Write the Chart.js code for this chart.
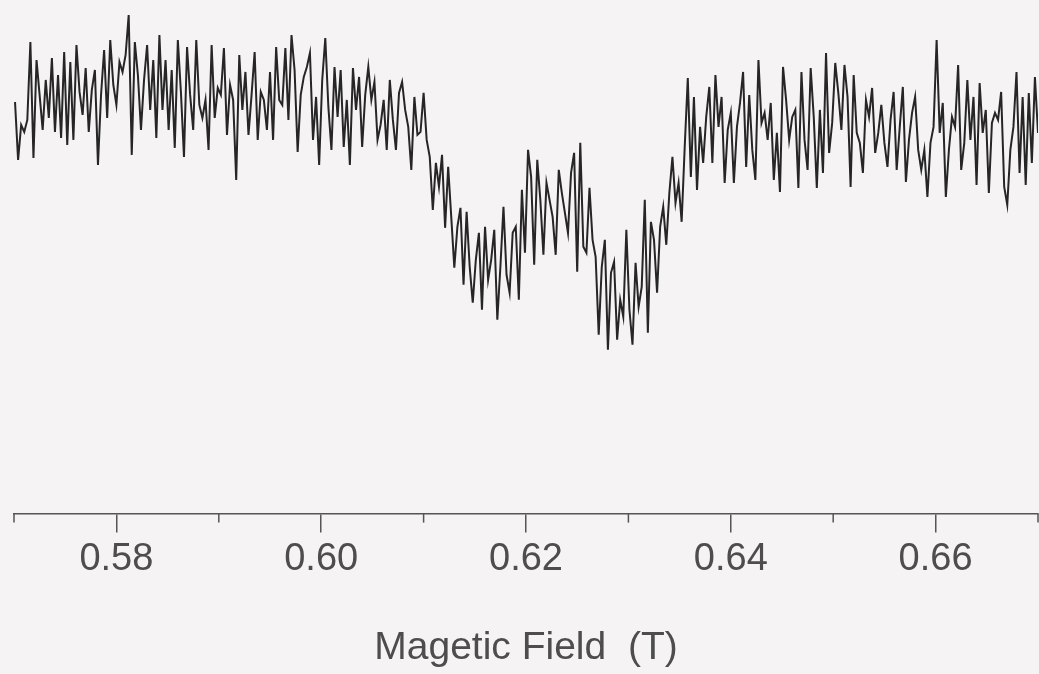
<!DOCTYPE html>
<html>
<head>
<meta charset="utf-8">
<title>Magetic Field (T)</title>
<script src="https://cdn.jsdelivr.net/npm/chart.js@4.4.1/dist/chart.umd.min.js"></script>
<style>
  html, body { margin: 0; padding: 0; background: #f5f3f3; }
  #wrap { width: 1039px; height: 674px; position: relative; }
</style>
</head>
<body>
<div id="wrap"><canvas id="spectrum"></canvas></div>
<script>
// field sweep (T): regular sampling from fieldStart
const fieldStart = 0.5701;
const fieldStep = 0.0003;

// signal, arbitrary units
const intensity = [
  412, 354, 389, 382, 394, 472, 356, 454, 419, 384, 434, 396, 456, 382, 439, 376, 462, 369, 452, 374,
  469, 422, 399, 446, 382, 424, 444, 349, 419, 464, 396, 474, 429, 409, 452, 442, 459, 499, 359, 472,
  439, 384, 434, 469, 404, 454, 376, 479, 404, 454, 384, 444, 366, 474, 422, 357, 467, 419, 384, 474,
  409, 396, 414, 364, 469, 396, 426, 419, 466, 379, 429, 414, 334, 459, 404, 442, 379, 419, 462, 374,
  422, 414, 384, 442, 374, 467, 414, 409, 466, 394, 479, 444, 362, 419, 437, 447, 461, 374, 417, 349,
  434, 476, 407, 364, 447, 397, 444, 367, 414, 349, 446, 404, 437, 367, 419, 447, 414, 432, 374, 389,
  414, 364, 434, 394, 364, 421, 432, 404, 387, 344, 417, 379, 382, 421, 374, 357, 304, 351, 327, 359,
  286, 347, 297, 246, 287, 306, 229, 302, 247, 211, 254, 281, 204, 287, 234, 254, 284, 194, 247, 307,
  239, 221, 281, 287, 214, 324, 261, 364, 337, 249, 354, 314, 259, 331, 314, 297, 259, 344, 321, 301,
  281, 341, 361, 242, 371, 267, 261, 326, 274, 257, 179, 247, 274, 164, 241, 252, 174, 214, 197, 284,
  204, 169, 251, 207, 227, 314, 181, 292, 274, 221, 287, 307, 269, 321, 357, 311, 331, 292, 367, 436,
  337, 417, 324, 387, 351, 397, 427, 351, 439, 387, 417, 331, 384, 401, 331, 387, 411, 442, 347, 419,
  364, 334, 454, 391, 401, 374, 411, 334, 381, 322, 447, 414, 374, 397, 404, 326, 442, 374, 344, 446,
  397, 326, 404, 341, 461, 361, 391, 451, 421, 384, 449, 417, 327, 439, 381, 371, 341, 414, 397, 426,
  361, 381, 409, 371, 347, 394, 422, 344, 387, 427, 332, 374, 401, 417, 364, 344, 364, 317, 371, 387,
  474, 381, 411, 317, 364, 397, 387, 449, 344, 371, 434, 374, 417, 329, 431, 381, 404, 321, 391, 401,
  394, 422, 327, 309, 364, 387, 442, 341, 417, 329, 421, 351, 437, 381
];

const fields = intensity.map((_, i) => +(fieldStart + i * fieldStep).toFixed(4));

const fieldMin = 0.57;
const fieldMax = 0.67;
const majorTicks = [0.58, 0.60, 0.62, 0.64, 0.66];
const minorTicks = [0.57, 0.59, 0.61, 0.63, 0.65, 0.67];
const axisTitle = "Magetic Field  (T)";

const axisColor = "#555555";
const textColor = "#4d4d4d";

Chart.defaults.font.family = "'Liberation Sans', Arial, Helvetica, sans-serif";
Chart.defaults.color = textColor;

// short unlabeled ticks between the labeled ones
const minorTickPlugin = {
  id: "minorTicks",
  afterDraw(chart) {
    const xs = chart.scales.x;
    const ctx = chart.ctx;
    ctx.save();
    ctx.strokeStyle = axisColor;
    ctx.lineWidth = 1.5;
    minorTicks.forEach(v => {
      const px = Math.min(xs.getPixelForValue(v), chart.width - 1);
      ctx.beginPath();
      ctx.moveTo(px, xs.top);
      ctx.lineTo(px, xs.top + 9);
      ctx.stroke();
    });
    ctx.restore();
  }
};

const bgPlugin = {
  id: "bg",
  beforeDraw(chart) {
    const ctx = chart.ctx;
    ctx.save();
    ctx.fillStyle = "#f5f3f3";
    ctx.fillRect(0, 0, chart.width, chart.height);
    ctx.restore();
  }
};

new Chart(document.getElementById("spectrum"), {
  type: "line",
  data: {
    labels: fields,
    datasets: [{
      data: intensity,
      borderColor: "#262626",
      borderWidth: 2,
      pointRadius: 0,
      tension: 0,
      fill: false
    }]
  },
  options: {
    responsive: true,
    maintainAspectRatio: false,
    animation: false,
    events: [],
    layout: { padding: { left: 14, right: 1, top: 14, bottom: 0 } },
    plugins: {
      legend: { display: false },
      tooltip: { enabled: false }
    },
    scales: {
      x: {
        type: "linear",
        min: fieldMin,
        max: fieldMax,
        afterBuildTicks: scale => {
          scale.ticks = majorTicks.map(v => ({ value: v }));
        },
        grid: {
          drawOnChartArea: false,
          drawTicks: true,
          tickLength: 19,
          color: axisColor,
          lineWidth: 1.5
        },
        border: { display: true, color: axisColor, width: 1.5 },
        ticks: {
          padding: 4.5,
          maxRotation: 0,
          autoSkip: false,
          color: textColor,
          font: { size: 38 },
          callback: v => v.toFixed(2)
        },
        title: {
          display: true,
          text: axisTitle,
          color: textColor,
          font: { size: 39 },
          padding: { top: 38, bottom: 2 }
        }
      },
      y: {
        display: false,
        min: 0,
        max: 500
      }
    }
  },
  plugins: [bgPlugin, minorTickPlugin]
});
</script>
</body>
</html>
